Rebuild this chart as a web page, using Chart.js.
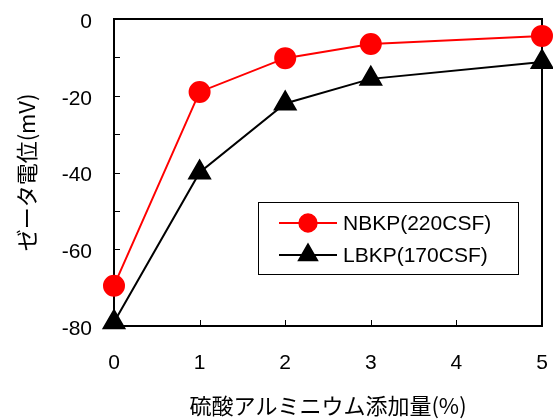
<!DOCTYPE html>
<html>
<head>
<meta charset="utf-8">
<script src="https://cdn.jsdelivr.net/npm/chart.js@4/dist/chart.umd.min.js"></script>
<style>
  html, body { margin: 0; padding: 0; background: #fff; }
  #wrap { width: 553px; height: 419px; }
</style>
</head>
<body>
<div id="wrap"><canvas id="zetaChart" width="553" height="419"></canvas></div>
<script>
// ===== DATA =====
const alumDose = [0, 1, 2, 3, 5];           // 硫酸アルミニウム添加量 (%)
const nbkpZeta = [-69.5, -19, -10.2, -6.5, -4.4];
const lbkpZeta = [-79, -40, -22, -15.6, -11.2];
const seriesNames = ["NBKP(220CSF)", "LBKP(170CSF)"];
const xTitle = "硫酸アルミニウム添加量(%)";
const yTitle = "ゼータ電位(mV)";

const FONT = "'Liberation Sans', 'Noto Sans CJK JP', sans-serif";
const JPFONT = "'Noto Sans CJK JP', 'Liberation Sans', sans-serif";

// frame + inward tick marks
const framePlugin = {
    id: "frame",
    beforeDatasetsDraw(chart) {
        const { ctx, chartArea: a, scales } = chart;
        ctx.save();
        ctx.strokeStyle = "#000";
        ctx.lineWidth = 2;
        ctx.strokeRect(a.left, a.top, a.right - a.left, a.bottom - a.top);
        ctx.lineWidth = 1;
        ctx.beginPath();
        scales.y.ticks.forEach(t => {
            const py = Math.round(scales.y.getPixelForValue(t.value)) + 0.5;
            if (py <= a.top + 2 || py >= a.bottom - 2) return;
            ctx.moveTo(a.left, py);
            ctx.lineTo(a.left + 6, py);
        });
        scales.x.ticks.forEach(t => {
            const px = Math.round(scales.x.getPixelForValue(t.value)) + 0.5;
            if (px <= a.left + 2 || px >= a.right - 2) return;
            ctx.moveTo(px, a.bottom);
            ctx.lineTo(px, a.bottom - 6);
        });
        ctx.stroke();
        ctx.restore();
    }
};

// boxed legend inside the plot
const boxLegend = {
    id: "boxLegend",
    afterDatasetsDraw(chart) {
        const { ctx, chartArea: a } = chart;
        const bx = a.left + 144, by = a.top + 183, bw = 260, bh = 72;
        ctx.save();
        ctx.fillStyle = "#fff";
        ctx.fillRect(bx, by, bw, bh);
        ctx.strokeStyle = "#000";
        ctx.lineWidth = 1;
        ctx.strokeRect(bx + 0.5, by + 0.5, bw, bh);
        chart.data.datasets.forEach((ds, i) => {
            const cy = by + 21 + i * 32;
            ctx.strokeStyle = ds.borderColor;
            ctx.lineWidth = 2;
            ctx.beginPath();
            ctx.moveTo(bx + 21, cy);
            ctx.lineTo(bx + 79, cy);
            ctx.stroke();
            ctx.fillStyle = ds.pointBackgroundColor;
            ctx.strokeStyle = ds.pointBorderColor;
            Chart.helpers.drawPoint(ctx, {
                pointStyle: ds.pointStyle,
                radius: ds.pointRadius * 0.87,
                rotation: 0,
                borderWidth: 1
            }, bx + 50, cy);
            ctx.fillStyle = "#000";
            ctx.font = "21px " + FONT;
            ctx.textBaseline = "middle";
            ctx.fillText(ds.label, bx + 85, cy + 1);
        });
        ctx.restore();
    }
};

new Chart(document.getElementById("zetaChart"), {
    type: "line",
    data: {
        datasets: [{
            label: seriesNames[0],
            data: alumDose.map((x, i) => ({ x: x, y: nbkpZeta[i] })),
            borderColor: "#ff0000",
            backgroundColor: "#ff0000",
            pointBackgroundColor: "#ff0000",
            pointBorderColor: "#ff0000",
            pointStyle: "circle",
            pointRadius: 10,
            borderWidth: 2,
            tension: 0,
            clip: false
        }, {
            label: seriesNames[1],
            data: alumDose.map((x, i) => ({ x: x, y: lbkpZeta[i] })),
            borderColor: "#000000",
            backgroundColor: "#000000",
            pointBackgroundColor: "#000000",
            pointBorderColor: "#000000",
            pointStyle: "triangle",
            pointRadius: 12,
            borderWidth: 2,
            tension: 0,
            clip: false
        }]
    },
    options: {
        responsive: false,
        animation: false,
        layout: { autoPadding: false, padding: { top: 19, right: 11, left: 0, bottom: 0 } },
        plugins: {
            legend: { display: false },
            tooltip: { enabled: false }
        },
        scales: {
            x: {
                type: "linear",
                min: 0,
                max: 5,
                // invisible tick marks just push the labels down
                grid: { display: false, drawTicks: true, tickLength: 25 },
                border: { display: false },
                ticks: {
                    stepSize: 1,
                    padding: 0,
                    color: "#000",
                    font: { family: FONT, size: 21 }
                },
                title: {
                    display: true,
                    text: xTitle,
                    color: "#000",
                    padding: { top: 0, bottom: 0 },
                    font: { family: JPFONT, size: 22 }
                },
                afterFit(scale) { scale.height = 93; }
            },
            y: {
                min: -80,
                max: 0,
                grid: { display: false, drawTicks: true, tickLength: 22 },
                border: { display: false },
                ticks: {
                    stepSize: 10,
                    padding: 0,
                    labelOffset: 3,
                    color: "#000",
                    font: { family: FONT, size: 21 },
                    callback: v => (v % 20 === 0 ? String(v) : "")
                },
                title: {
                    display: true,
                    text: yTitle,
                    color: "#000",
                    padding: { top: 13, bottom: 0 },
                    font: { family: JPFONT, size: 22 }
                },
                afterFit(scale) { scale.width = 114; }
            }
        }
    },
    plugins: [framePlugin, boxLegend]
});
</script>
</body>
</html>
